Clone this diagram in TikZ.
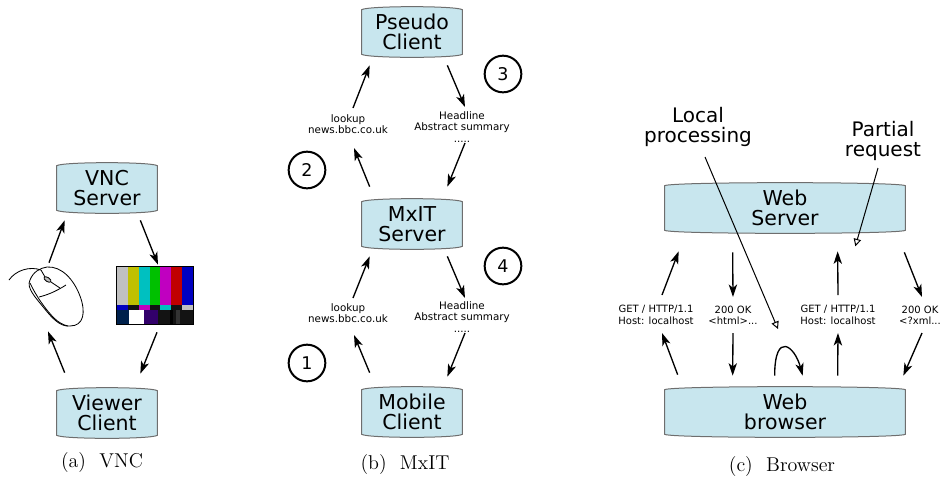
\documentclass[tikz,border=0pt]{standalone}
\usepackage{fontspec}
\newfontfamily\dejavu{DejaVu Sans}
\usetikzlibrary{calc,arrows.meta,backgrounds}

\definecolor{boxfill}{HTML}{C8E6EE}
\definecolor{boxline}{HTML}{6E6E6E}
\definecolor{tvgrey}{HTML}{C0C0C0}
\definecolor{tvyellow}{HTML}{C0C000}
\definecolor{tvcyan}{HTML}{00C0C0}
\definecolor{tvgreen}{HTML}{00C000}
\definecolor{tvmag}{HTML}{C000C0}
\definecolor{tvred}{HTML}{C00000}
\definecolor{tvblue}{HTML}{0000C0}
\definecolor{tvblack}{HTML}{131313}
\definecolor{tvnavy}{HTML}{00214C}
\definecolor{tvpurple}{HTML}{32006A}

\begin{document}
\begin{tikzpicture}[
    x=0.6pt, y=-0.6pt,
    box/.style={rectangle, minimum width=60pt, minimum height=30pt, inner sep=1pt, align=center, font=\dejavu\fontsize{12.3}{11.8}\selectfont},
    widebox/.style={box, minimum width=144pt},
    lbl/.style={align=center, inner sep=0pt, font=\dejavu\fontsize{6.2}{6.8}\selectfont},
    note/.style={align=center, inner sep=0pt, font=\dejavu\fontsize{12}{11.6}\selectfont},
    num/.style={circle, draw, line width=1.2pt, minimum size=22pt, inner sep=0pt, font=\dejavu\fontsize{10.5}{12}\selectfont},
    subcap/.style={inner sep=0pt, font=\fontsize{12}{14}\selectfont},
    mouseline/.style={line width=0.5pt},
    arrow/.style={->, >={Stealth[length=7.5pt,width=5pt,inset=2pt]}, thick},
    hint/.style={-{Triangle[open,length=4.5pt,width=4.5pt]}, semithick}
]
\useasboundingbox (0,0) rectangle (941,480);

% (a) VNC
\node[box] (vnc) at (107,188) {VNC\\Server};
\node[box] (viewer) at (107,413) {Viewer\\Client};
\node[minimum width=44.4pt, minimum height=36.6pt, inner sep=0pt] (mouse) at (46,296.5) {};
\node[minimum width=45.6pt, minimum height=34.2pt, inner sep=0pt] (tv) at (155,295.5) {};
\node[subcap] (capa) at (102,463) {(a)\hspace{8pt}VNC};

% mouse
\draw[mouseline] (47,267) .. controls (62,266) and (74,280) .. (80,296) .. controls (86,312) and (84,326) .. (70,326) .. controls (60,327) and (52,318) .. (44,308) .. controls (36,298) and (26,288) .. (30,280) .. controls (33,272) and (40,268) .. (47,267);
\draw[mouseline] (30,283) .. controls (36,296) and (46,310) .. (54,318) .. controls (58,322) and (63,325) .. (68,326);
\draw[mouseline] (41,270) -- (45,277);
\draw[mouseline, fill=gray!50, rotate around={-34:(47.5,279.5)}] (47.5,279.5) ellipse (4 and 2);
\draw[mouseline] (51,282) -- (60,288);
\draw[mouseline] (39,297) .. controls (47,295) and (55,292) .. (66,285);
\draw[mouseline] (9,280) .. controls (16,270) and (30,266) .. (41,270);

% colour bars
\foreach \c [count=\i from 0] in {tvgrey,tvyellow,tvcyan,tvgreen,tvmag,tvred,tvblue}
    \fill[\c] ({117+\i*76/7},267) rectangle ++(76/7,38);
\foreach \c [count=\i from 0] in {tvblue,tvblack,tvmag,tvblack,tvcyan,tvblack,tvgrey}
    \fill[\c] ({117+\i*76/7},305) rectangle ++(76/7,5);
\fill[tvnavy] (117,310) rectangle (129,324);
\fill[white] (129,310) rectangle (144,324);
\fill[tvpurple] (144,310) rectangle (158,324);
\fill[tvblack] (158,310) rectangle (193,324);
\fill[black] (170,310) rectangle (173,324);
\fill[black!80] (176,310) rectangle (180,324);
\draw[line width=0.6pt] (tv.north west) rectangle (tv.south east);

\draw[arrow] ($(mouse.north)+(3,-3)$) -- ($(vnc.south west)+(8,7)$);
\draw[arrow] ($(vnc.south east)+(-17,7)$) -- ($(tv.north)+(3,-2)$);
\draw[arrow] ($(tv.south)+(2,8)$) -- ($(viewer.north east)+(-17,-14)$);
\draw[arrow] ($(viewer.north west)+(8,-15)$) -- ($(mouse.south)+(2,4)$);

% (b) MxIT
\node[box] (pseudo) at (412,32) {Pseudo\\Client};
\node[box] (mxit) at (412,224) {MxIT\\Server};
\node[box] (mobile) at (412,412) {Mobile\\Client};
\node[lbl] (lkA) at (348,124) {lookup\\news.bbc.co.uk};
\node[lbl] (hlA) at (462,127) {Headline\\Abstract summary\\.....};
\node[lbl] (lkB) at (348,313) {lookup\\news.bbc.co.uk};
\node[lbl] (hlB) at (462,317) {Headline\\Abstract summary\\.....};
\node[num] (n3) at (503,74) {3};
\node[num] (n2) at (307,170) {2};
\node[num] (n4) at (503,266) {4};
\node[num] (n1) at (307,363) {1};
\node[subcap] (capb) at (405,465) {(b)\hspace{8pt}MxIT};

\draw[arrow] ($(lkA)+(5,-16)$) -- ($(pseudo.south west)+(8,8)$);
\draw[arrow] ($(mxit.north west)+(8,-12)$) -- ($(lkA)+(6,24)$);
\draw[arrow] ($(pseudo.south east)+(-15,8)$) -- ($(hlA)+(3,-20)$);
\draw[arrow] ($(hlA)+(3,16)$) -- ($(mxit.north east)+(-15,-12)$);
\draw[arrow] ($(lkB)+(5,-15)$) -- ($(mxit.south west)+(8,7)$);
\draw[arrow] ($(mobile.north west)+(8,-14)$) -- ($(lkB)+(6,22)$);
\draw[arrow] ($(mxit.south east)+(-15,7)$) -- ($(hlB)+(3,-19)$);
\draw[arrow] ($(hlB)+(3,16)$) -- ($(mobile.north east)+(-15,-10)$);

% (c) Browser
\node[widebox] (websrv) at (785,208) {Web\\Server};
\node[widebox] (browser) at (785,412) {Web\\browser};
\node[note] (local) at (698,127) {Local\\processing};
\node[note] (partial) at (883,141) {Partial\\request};
\node[lbl, font=\dejavu\fontsize{6}{6.8}\selectfont] (get1) at (656,315) {GET / HTTP/1.1\\Host: localhost};
\node[lbl, font=\dejavu\fontsize{6}{6.8}\selectfont] (ok1) at (733,315) {200 OK\\<html>...};
\node[lbl, font=\dejavu\fontsize{6}{6.8}\selectfont] (get2) at (838,315) {GET / HTTP/1.1\\Host: localhost};
\node[lbl, font=\dejavu\fontsize{6}{6.8}\selectfont] (ok2) at (920,315) {200 OK\\<?xml...};
\node[subcap] (capc) at (782,467) {(c)\hspace{8pt}Browser};

\draw[arrow] ($(get1)+(6,-20)$) -- ($(websrv.south west)+(14,18)$);
\draw[arrow] ($(websrv.south west)+(68,19)$) -- ($(ok1)+(0,-18)$);
\draw[arrow] ($(get2)+(0,-20)$) -- ($(websrv.south west)+(173,18)$);
\draw[arrow] ($(websrv.south east)+(-1,19)$) -- ($(ok2)+(2,-18)$);
\draw[arrow] ($(browser.north west)+(13,-12)$) -- ($(get1)+(6,18)$);
\draw[arrow] ($(ok1)+(0,18)$) -- ($(browser.north west)+(68,-11)$);
\draw[arrow] ($(browser.north west)+(110,-11)$) .. controls +(0,-45) and +(-8,-30) .. ($(browser.north west)+(138,-11)$);
\draw[arrow] ($(browser.north west)+(173,-11)$) -- ($(get2)+(0,18)$);
\draw[arrow] ($(ok2)+(2,18)$) -- ($(browser.north east)+(-2,-11)$);
\draw[hint] ($(local)+(7,30)$) -- ($(ok1)+(45,14)$);
\draw[hint] ($(partial)+(-5,27)$) -- ($(websrv.south east)+(-50,13)$);

% box outlines
\begin{scope}[on background layer]
\foreach \n in {vnc,viewer,pseudo,mxit,mobile,websrv,browser}
    \draw[boxline, fill=boxfill, line width=0.6pt]
        ([yshift=-1.8pt]\n.north west) .. controls +(4pt,2.4pt) and +(-4pt,2.4pt) .. ([yshift=-1.8pt]\n.north east)
        -- ([yshift=1.8pt]\n.south east) .. controls +(-4pt,-2.4pt) and +(4pt,-2.4pt) .. ([yshift=1.8pt]\n.south west) -- cycle;
\end{scope}

\end{tikzpicture}
\end{document}
